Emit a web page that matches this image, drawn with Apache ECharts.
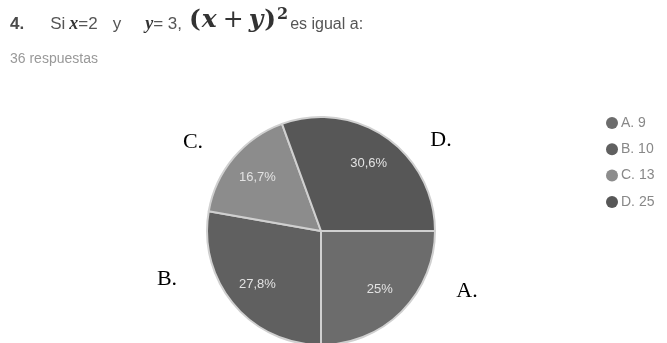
<!DOCTYPE html>
<html>
<head>
<meta charset="utf-8">
<script src="https://cdn.jsdelivr.net/npm/echarts@6/dist/echarts.min.js"></script>
<style>html,body{margin:0;padding:0;background:#fff}#c{width:667px;height:343px}</style>
</head>
<body>
<div id="c"></div>
<script>
const categories = ['A. 9', 'B. 10', 'C. 13', 'D. 25'];
const counts = [9, 10, 6, 11];
const pctLabels = ['25%', '27,8%', '16,7%', '30,6%'];
const letterLabels = ['A.', 'B.', 'C.', 'D.'];
const totalText = '36 respuestas';
const colors = ['#6c6c6c', '#606060', '#8c8c8c', '#575757'];

const chart = echarts.init(document.getElementById('c'), null, {renderer: 'canvas'});
const data = categories.map((n, i) => ({name: n, value: counts[i], itemStyle: {color: colors[i]}}));
const labelData = categories.map((n, i) => ({name: n, value: counts[i], label: {formatter: pctLabels[i]}}));

const letterPos = [[467, 291], [167, 279], [193, 142], [441, 140]];

const sans = {fontFamily: 'Liberation Sans', fontSize: 17, fontWeight: 'normal', color: '#555', verticalAlign: 'bottom'};
const serifBI = {fontFamily: 'Liberation Serif', fontWeight: 'bold', fontStyle: 'italic', color: '#333', verticalAlign: 'bottom'};
const mathBI = {fontFamily: 'DejaVu Serif', fontWeight: 'bold', fontStyle: 'italic', fontSize: 25, color: '#333', verticalAlign: 'bottom'};
const mathR = {fontFamily: 'DejaVu Serif', fontWeight: 'bold', fontSize: 25, color: '#333', verticalAlign: 'bottom'};

chart.setOption({
  animation: false,
  title: [{
    left: 10, top: 7, padding: 0,
    text: '{n|4.}{si|Si}{vx|x}{g|=2}{cy|y}{vy|y}{g|= 3,}{pl|(}{mx|x}{mo|+}{my|y}{pr|)}{sup|2}{s|es igual a:}',
    textStyle: {
      fontWeight: 'normal',
      rich: {
        n: Object.assign({}, sans, {fontWeight: 'bold', color: '#4a4a4a'}),
        si: Object.assign({}, sans, {padding: [0, 0, 0, 26]}),
        g: Object.assign({}, sans),
        cy: Object.assign({}, sans, {padding: [0, 0, 0, 15]}),
        vx: Object.assign({}, serifBI, {fontSize: 18, padding: [0, 0, 0, 4]}),
        vy: Object.assign({}, serifBI, {fontSize: 18, padding: [0, 0, 0, 24]}),
        pl: Object.assign({}, mathR, {padding: [0, 1, 0, 7]}),
        mx: Object.assign({}, mathBI, {padding: [0, 0, 0, 0]}),
        mo: Object.assign({}, mathR, {fontWeight: 'normal', padding: [0, 5, 0, 6]}),
        my: Object.assign({}, mathBI, {padding: [0, 1, 0, 0]}),
        pr: Object.assign({}, mathR, {padding: [0, 0, 0, 0]}),
        sup: {fontFamily: 'DejaVu Serif', fontWeight: 'bold', fontSize: 16, color: '#333', verticalAlign: 'bottom', padding: [0, 0, 10, 1]},
        s: Object.assign({}, sans, {fontSize: 16, padding: [0, 0, 0, 2]})
      }
    }
  }, {
    left: 10, top: 52, padding: 0,
    text: totalText,
    textStyle: {fontFamily: 'Liberation Sans', fontSize: 14, color: '#999', fontWeight: 'normal'}
  }],
  legend: {
    orient: 'vertical',
    left: 606, top: 116, padding: 0,
    icon: 'circle',
    itemWidth: 12, itemHeight: 12, itemGap: 12.3,
    data: categories,
    itemStyle: {borderWidth: 0},
    textStyle: {fontFamily: 'Liberation Sans', fontSize: 14, lineHeight: 12, color: '#888', padding: [0, 0, 0, -2]}
  },
  series: [{
    type: 'pie',
    center: [321, 231],
    radius: 114,
    startAngle: 0,
    clockwise: true,
    data: data,
    itemStyle: {borderColor: '#d0d0d0', borderWidth: 2},
    label: {show: false},
    labelLine: {show: false},
    emphasis: {disabled: true}
  }, {
    type: 'pie',
    center: [321, 231],
    radius: 160,
    startAngle: 0,
    clockwise: true,
    silent: true,
    legendHoverLink: false,
    data: labelData,
    itemStyle: {color: 'rgba(0,0,0,0)'},
    label: {show: true, position: 'inside', color: '#e2e2e2', fontFamily: 'Liberation Sans', fontSize: 13},
    labelLine: {show: false},
    emphasis: {disabled: true}
  }],
  graphic: letterLabels.map((t, i) => ({
    type: 'text', x: letterPos[i][0], y: letterPos[i][1],
    style: {text: t, fill: '#000', font: '22px "Liberation Serif"', align: 'center', verticalAlign: 'middle'}
  }))
});
</script>
</body>
</html>
